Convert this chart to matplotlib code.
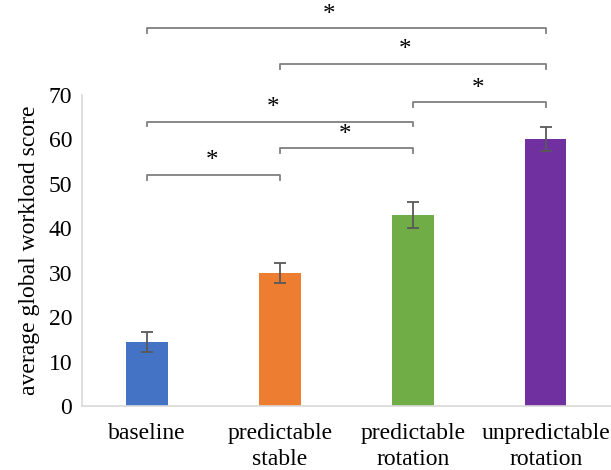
import matplotlib.pyplot as plt

# bar data
conditions = ["baseline", "predictable\nstable", "predictable\nrotation", "unpredictable\nrotation"]
scores = [14.4, 30.0, 43.0, 60.0]
errors = [2.2, 2.3, 2.9, 2.7]
colors = ["#4472c4", "#ed7d31", "#70ad47", "#7030a0"]

# significance brackets: (left bar, right bar, height)
pairs_left = [0, 1, 2, 0, 1, 0]
pairs_right = [3, 3, 3, 2, 2, 1]
bracket_y = [85.0, 77.0, 68.3, 64.0, 58.0, 52.0]
star_x = [1.37, 1.94, 2.49, 0.95, 1.49, 0.49]

plt.rcParams["font.family"] = ["Liberation Serif", "DejaVu Serif"]

fig = plt.figure(figsize=(6.11, 4.70), dpi=100)
ax = fig.add_axes([0.134, 0.136, 0.866, 0.662])

x = range(len(conditions))
ax.bar(x, scores, width=0.31, color=colors, zorder=2)
ax.errorbar(x, scores, yerr=errors, fmt="none", ecolor="#595959",
            elinewidth=1.3, capsize=4, capthick=1.3, zorder=3)

ax.set_ylim(0, 70)
ax.set_xlim(-0.49, 3.49)
ax.set_yticks(range(0, 71, 10))
ax.set_xticks(list(x))
ax.set_xticklabels(conditions, fontsize=17, linespacing=1.3)
ax.tick_params(axis="y", labelsize=17, length=0, pad=7)
ax.tick_params(axis="x", length=0, pad=12)
ax.set_ylabel("average global workload score", fontsize=17, labelpad=6)

for s in ["top", "right"]:
    ax.spines[s].set_visible(False)
ax.spines["left"].set_color("#d9d9d9")
ax.spines["bottom"].set_color("#d9d9d9")
ax.spines["left"].set_linewidth(1.2)
ax.spines["bottom"].set_linewidth(1.2)

# brackets with stars
tick = 1.1
for a, b, h, sx in zip(pairs_left, pairs_right, bracket_y, star_x):
    ax.plot([a, a, b, b], [h - tick, h, h, h - tick], color="#7f7f7f",
            lw=1.3, clip_on=False)
    ax.text(sx, h + 0.6, "*", ha="center", va="bottom", fontsize=18,
            clip_on=False)

fig.savefig("out.png", dpi=100)
